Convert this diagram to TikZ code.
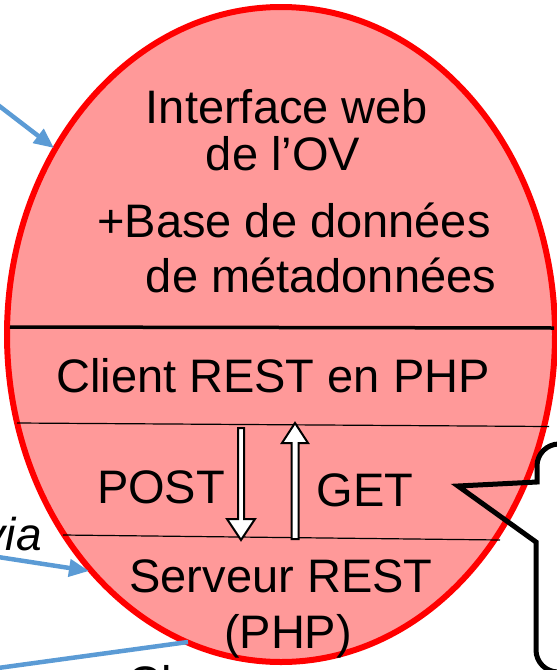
\documentclass[tikz,border=0pt]{standalone}
\usepackage{fontspec}
\setmainfont{Liberation Sans}
\usetikzlibrary{arrows.meta,shapes.geometric}
\definecolor{ovfill}{HTML}{FF9999}
\definecolor{ovred}{HTML}{FF0000}
\definecolor{lineblue}{HTML}{5B9BD5}
\begin{document}
\begin{tikzpicture}[x=1pt,y=-1pt,
  lbl/.style={inner sep=0, anchor=base, font=\fontsize{47}{56}\selectfont},
  thinsep/.style={draw=black, line width=1.2pt},
  thicksep/.style={draw=black, line width=3.5pt},
  blockarrow/.style={draw=black, fill=white, line width=2pt, line join=miter},
  bluelink/.style={draw=lineblue, line width=4.5pt},
  bluearrow/.style={bluelink, -{Triangle[length=20pt,width=17pt]}},
  callout/.style={draw=black, line width=5pt, line join=miter}]
\useasboundingbox (0,0) rectangle (557,670);
\begin{scope}
\clip (0,0) rectangle (557,670);
% main ellipse
\node[ellipse, draw=ovred, fill=ovfill, line width=6pt, minimum width=548pt,
      minimum height=655pt, inner sep=0] (ov) at (281,334.5) {};
% separators
\draw[thicksep] (10,327) -- (554,328);
\draw[thinsep] (17,423) -- (549,426.5);
\draw[thinsep] (63,535) -- (500,540);
% texts
\node[lbl] (t1) at (287,123) {Interface web};
\node[lbl] (t2) at (283,170) {de l’OV};
\node[lbl] (t3) at (294,237) {+Base de données};
\node[lbl] (t4) at (321,292) {de métadonnées};
\node[lbl] (t5) at (273,392) {Client REST en PHP};
\node[lbl] (t6) at (161,503) {POST};
\node[lbl] (t7) at (365,506) {GET};
\node[lbl] (t8) at (281,592) {Serveur REST};
\node[lbl] (t9) at (288,648) {(PHP)};
% block arrows
\draw[blockarrow] (238,428) -- (244,428) -- (244,519) -- (255,519) -- (241,540)
   -- (227,519) -- (238,519) -- cycle;
\draw[blockarrow] (291.5,539) -- (298.5,539) -- (298.5,443) -- (308,443) -- (295,423)
   -- (282,443) -- (291.5,443) -- cycle;
% blue connectors
\coordinate (b1s) at (-2,105);
\coordinate (b1e) at (54,148);
\coordinate (b2s) at (-2,557);
\coordinate (b2e) at (89,571);
\coordinate (b3s) at (-2,668);
\coordinate (b3e) at (188,642);
\draw[bluearrow] (b1s) -- (b1e);
\draw[bluearrow] (b2s) -- (b2e);
\draw[bluelink] (b3s) -- (b3e);
% partial texts
\node[inner sep=0, anchor=base east, font=\fontsize{46}{52}\selectfont\itshape] (via) at (42,550) {via};
\node[lbl, anchor=base west] (cl) at (127,699) {Cl};
% callout
\draw[callout] (590,444) -- (559,444) arc[start angle=270, end angle=180, radius=22]
   -- (537,482) -- (458,486) -- (536,542) -- (536,650)
   arc[start angle=180, end angle=90, radius=22] -- (590,672);
\end{scope}
\end{tikzpicture}
\end{document}
